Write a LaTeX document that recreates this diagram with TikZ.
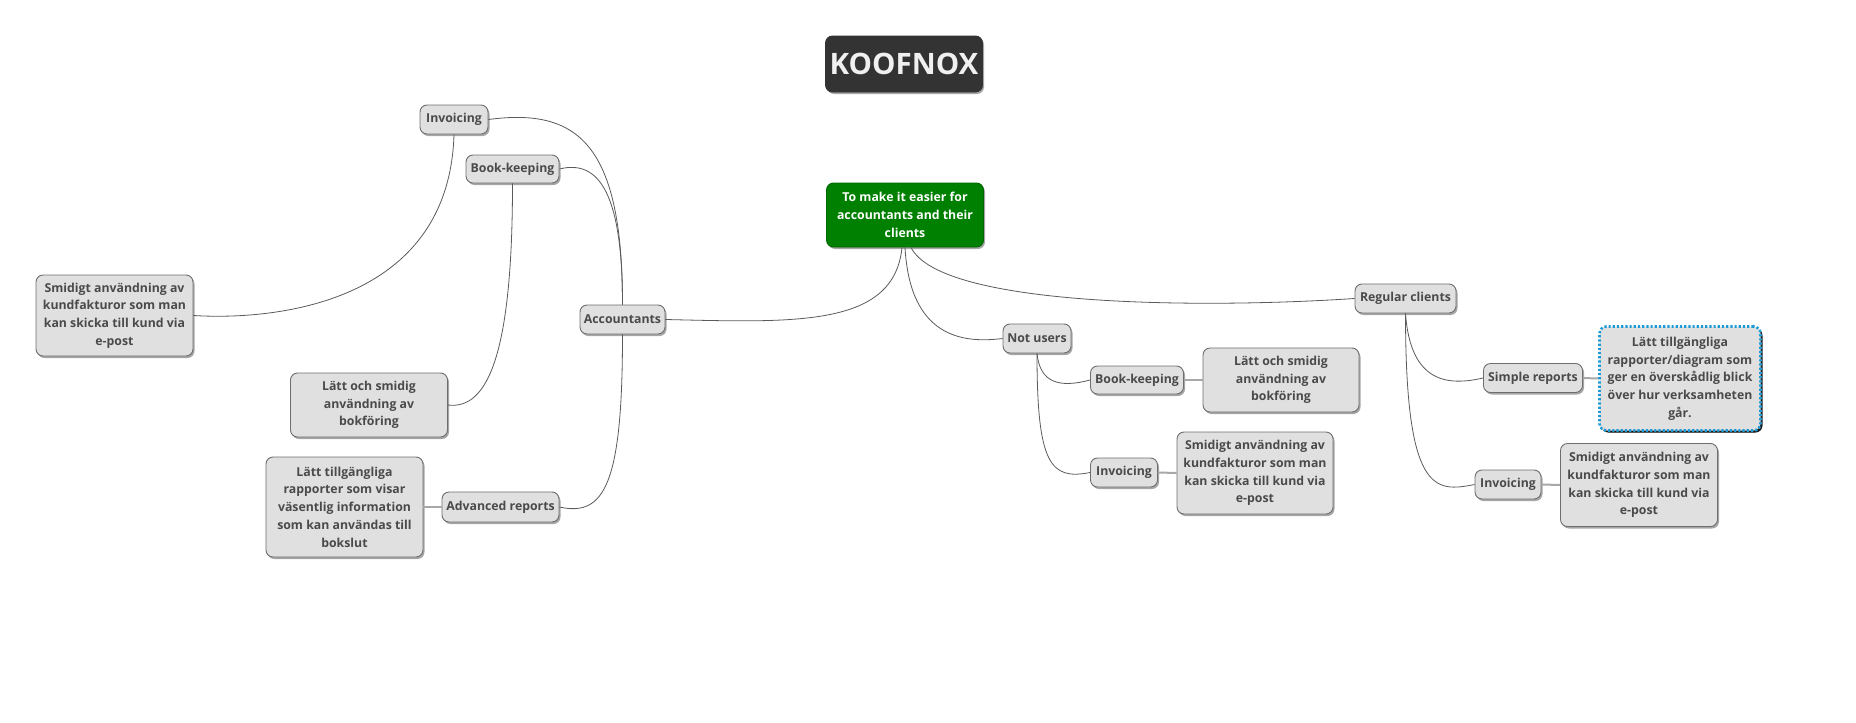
\documentclass[tikz,border=0pt]{standalone}
\usepackage{fontspec}
\setmainfont{Open Sans}
\usetikzlibrary{shadows}
\definecolor{boxfill}{HTML}{E0E0E0}
\definecolor{boxdraw}{HTML}{6E6E6E}
\definecolor{txt}{HTML}{4A4A4A}
\definecolor{conn}{HTML}{5A5A5A}
\definecolor{leafconn}{HTML}{A8A8A8}
\definecolor{selblue}{HTML}{1E9BD7}
\definecolor{koof}{HTML}{333333}
\definecolor{goalgreen}{HTML}{008000}
\tikzset{
  mm/.style={draw=boxdraw, line width=0.9pt, fill=boxfill, rounded corners=7pt,
    text=txt, font=\bfseries\fontsize{12.3}{17.7}\selectfont, align=center, inner sep=0pt,
    drop shadow={shadow xshift=1.5pt, shadow yshift=-2pt, fill=black, opacity=0.35}},
  sel/.style={mm, draw=selblue, line width=2.6pt, dash pattern=on 2.2pt off 2pt,
    drop shadow={shadow xshift=2pt, shadow yshift=-2pt, fill=black, opacity=0.85}},
  titlebox/.style={mm, fill=koof, draw=koof, text=white!94!black,
    font=\bfseries\fontsize{29.5}{34}\selectfont},
  goalbox/.style={mm, fill=goalgreen, draw=goalgreen!80!black, text=white},
  link/.style={draw=conn, line width=0.8pt},
  leaf/.style={draw=leafconn, line width=2pt},
}
\begin{document}
\begin{tikzpicture}[x=1pt,y=-1pt]
\useasboundingbox (0,0) rectangle (1856,723);
% title and goal
\node[titlebox, minimum width=157, minimum height=56] (title) at (904,64) {KOOFNOX};
\node[goalbox, minimum width=157, minimum height=64] (goal) at (905,215) {To make it easier for\\accountants and their\\clients};
% left branch
\node[mm, minimum width=85, minimum height=29] (acc) at (622.5,319.5) {Accountants};
\node[mm, minimum width=68, minimum height=29] (inv1) at (454,119.5) {Invoicing};
\node[mm, minimum width=93, minimum height=28] (bk1) at (512.5,169) {Book-keeping};
\node[mm, minimum width=117, minimum height=30] (adv) at (500.5,507) {Advanced reports};
\node[mm, minimum width=157, minimum height=81] (smid1) at (114.5,315.5) {Smidigt användning av\\kundfakturor som man\\kan skicka till kund via\\e-post};
\node[mm, minimum width=157, minimum height=64] (lt1) at (369,405) {Lätt och smidig\\användning av\\bokföring};
\node[mm, minimum width=157, minimum height=100] (lt2) at (344.5,507) {Lätt tillgängliga\\rapporter som visar\\väsentlig information\\som kan användas till\\bokslut};
% middle branch
\node[mm, minimum width=68, minimum height=29] (nu) at (1037,338.5) {Not users};
\node[mm, minimum width=93, minimum height=28] (bk2) at (1137,380) {Book-keeping};
\node[mm, minimum width=156, minimum height=64] (lt3) at (1281,380) {Lätt och smidig\\användning av\\bokföring};
\node[mm, minimum width=67, minimum height=29] (inv2) at (1124,472.5) {Invoicing};
\node[mm, minimum width=156, minimum height=82] (smid2) at (1255,473) {Smidigt användning av\\kundfakturor som man\\kan skicka till kund via\\e-post};
% right branch
\node[mm, minimum width=101, minimum height=29] (reg) at (1405.5,298.5) {Regular clients};
\node[mm, minimum width=99, minimum height=29] (sr) at (1533,378) {Simple reports};
\node[sel, minimum width=161, minimum height=104] (lt4) at (1680,378.5) {Lätt tillgängliga\\rapporter/diagram som\\ger en överskådlig blick\\över hur verksamheten\\går.};
\node[mm, minimum width=66, minimum height=29] (inv3) at (1508,484.5) {Invoicing};
\node[mm, minimum width=157, minimum height=83] (smid3) at (1639,485) {Smidigt användning av\\kundfakturor som man\\kan skicka till kund via\\e-post};
% connectors from goal
\draw[link] ([xshift=-3pt]goal.south) .. controls +(-8,80) and +(130,3) .. (acc.east);
\draw[link] (goal.south) .. controls +(5,90) and +(-40,5) .. (nu.west);
\draw[link] ([xshift=6pt]goal.south) .. controls +(30,60) and +(-150,10) .. (reg.west);
% accountants
\draw[link] (acc.north) .. controls +(0,-160) and +(90,-12) .. (inv1.east);
\draw[link] (acc.north) .. controls +(0,-110) and +(40,-10) .. (bk1.east);
\draw[link] (acc.south) .. controls +(0,150) and +(45,10) .. (adv.east);
\draw[link] (inv1.south) .. controls +(-5,170) and +(80,5) .. (smid1.east);
\draw[link] (bk1.south) .. controls +(0,170) and +(40,5) .. (lt1.east);
\draw[leaf] (adv.west) -- (lt2.east);
% not users
\draw[link] (nu.south) .. controls +(3,30) and +(-30,8) .. (bk2.west);
\draw[link] (nu.south) .. controls +(0,110) and +(-40,8) .. (inv2.west);
\draw[leaf] (bk2.east) -- (lt3.west);
\draw[leaf] (inv2.east) -- (smid2.west);
% regular clients
\draw[link] (reg.south) .. controls +(5,70) and +(-35,8) .. (sr.west);
\draw[link] (reg.south) .. controls +(0,180) and +(-40,8) .. (inv3.west);
\draw[leaf] (sr.east) -- (lt4.west);
\draw[leaf] (inv3.east) -- (smid3.west);
\end{tikzpicture}
\end{document}
